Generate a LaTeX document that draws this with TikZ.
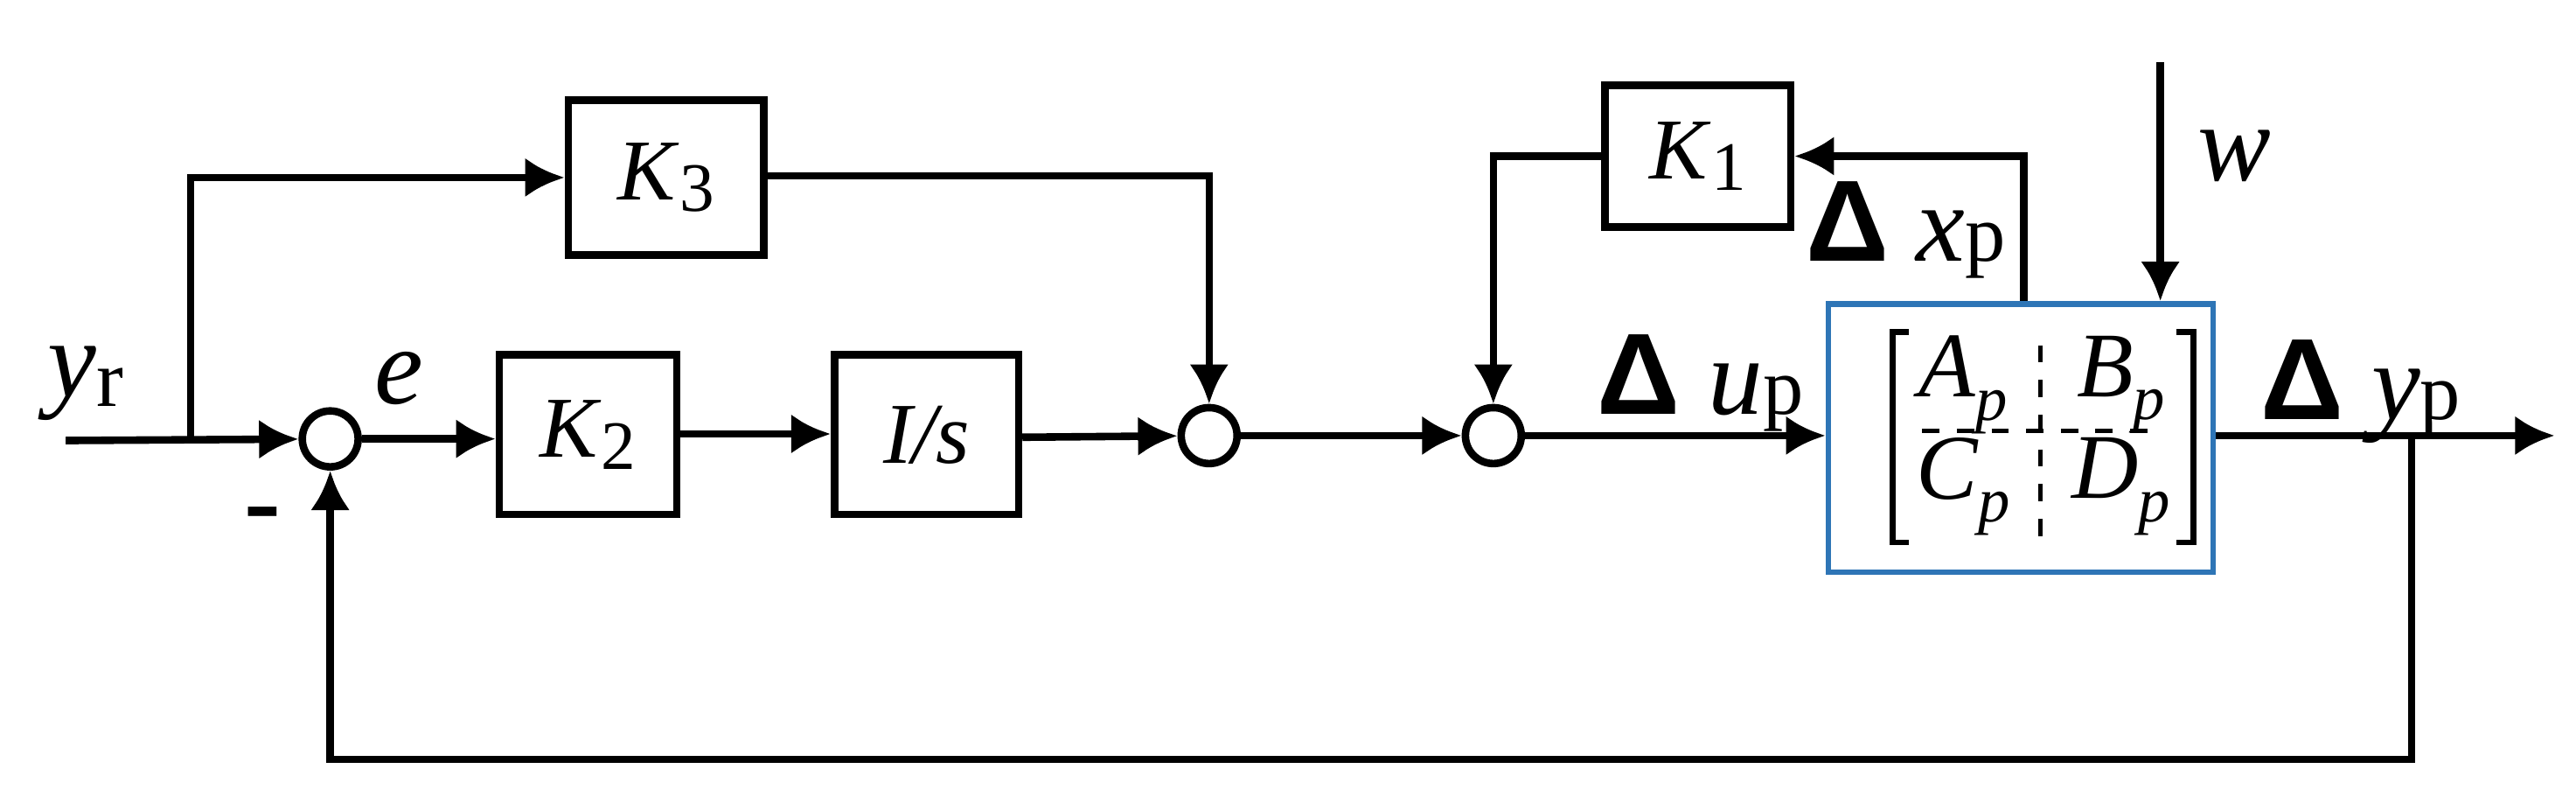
\documentclass[tikz,border=0pt]{standalone}
\usepackage{fontspec}
\setmainfont{Liberation Serif}
\newfontfamily\deltafont{Liberation Sans}
\usetikzlibrary{positioning,arrows.meta}
\tikzset{line/.style={draw, line width=1.3pt, -{Latex[length=0.24cm,width=0.24cm]}},
  wire/.style={draw, line width=1.3pt}}
\newcommand{\dlt}{{\deltafont\bfseries\fontsize{20}{20}\selectfont Δ}}
\newcommand{\ent}[1]{\textit{#1}\raisebox{-0.55ex}{\fontsize{11}{12}\selectfont\textit{p}}}
\begin{document}
\begin{tikzpicture}[x=0.01cm,y=-0.01cm,
blk/.style={draw, line width=1.3pt, inner sep=0pt, font=\fontsize{15}{17}\selectfont},
sum/.style={draw, circle, line width=1.3pt, minimum size=0.34cm, inner sep=0pt},
lbl/.style={font=\fontsize{19}{22}\selectfont},
]
\useasboundingbox (0,0) rectangle (1568,493);
% blocks
\node[blk, minimum width=1.19cm, minimum height=0.94cm] (k3) at (405.5,108) {\textit{K}\raisebox{-0.3ex}{\fontsize{12}{14}\selectfont 3}};
\node[blk, minimum width=1.08cm, minimum height=0.97cm] (k2) at (358,264.5) {\textit{K}\raisebox{-0.3ex}{\fontsize{12}{14}\selectfont 2}};
\node[blk, minimum width=1.12cm, minimum height=0.97cm] (is) at (564,264.5) {\textit{I/s}};
\node[blk, minimum width=1.13cm, minimum height=0.86cm] (k1) at (1033.5,95) {\textit{K}\raisebox{-0.3ex}{\fontsize{12}{14}\selectfont 1}};
\node[blk, draw={rgb,255:red,46;green,117;blue,182}, line width=1pt, minimum width=2.34cm, minimum height=1.63cm] (plant) at (1230,266.5) {};
% sums
\node[sum] (s1) at (201,267) {};
\node[sum] (s2) at (736,265) {};
\node[sum] (s3) at (909,265) {};
% points
\coordinate (in) at (40,268);
\coordinate (br) at (116,268);
\coordinate (wtop) at (1315,38);
\coordinate (out) at (1555,265);
\coordinate (fb) at (1468,265);
% matrix
\draw[line width=1pt] (1162,202) -- (1152,202) -- (1152,330) -- (1162,330);
\draw[line width=1pt] (1325,202) -- (1335,202) -- (1335,330) -- (1325,330);
\draw[dashed, line width=0.8pt] (1242,210) -- (1242,328);
\draw[dashed, line width=0.8pt] (1170,262) -- (1314,262);
\node[font=\fontsize{16}{18}\selectfont] (ap) at (1195,234) {\ent{A}};
\node[font=\fontsize{16}{18}\selectfont] (bp) at (1291,234) {\ent{B}};
\node[font=\fontsize{16}{18}\selectfont] (cp) at (1195,296) {\ent{C}};
\node[font=\fontsize{16}{18}\selectfont] (dp) at (1291,296) {\ent{D}};
% labels
\node[lbl] (yr) at (52,233) {\textit{y}\raisebox{-0.2ex}{\fontsize{14}{16}\selectfont r}};
\node[lbl] (e) at (243,230) {\textit{e}};
\node[lbl] (minus) at (160,318) {\textbf{-}};
\node[lbl] (up) at (1035,233) {\dlt\ \textit{u}{\fontsize{14}{16}\selectfont p}};
\node[lbl] (xp) at (1160,140) {\dlt\ \textit{x}{\fontsize{14}{16}\selectfont p}};
\node[lbl] (yp) at (1437,238) {\dlt\ \textit{y}{\fontsize{14}{16}\selectfont p}};
\node[lbl] (w) at (1360,95) {\textit{w}};
% connectors
\path[line] (in) -- (s1);
\path[line] (br) |- (k3.west |- 0,108);
\path[line] (k3.east |- 0,107) -| (s2);
\path[line] (s1) -- (k2.west |- s1);
\path[line] (k2.east |- 0,264) -- (is.west |- 0,264);
\path[line] (is.east |- 0,266) -- (s2);
\path[line] (s2) -- (s3);
\path[line] (s3) -- (plant.west |- s3);
\path[line] (plant.north -| 1232,0) |- (k1.east);
\path[line] (k1.west) -| (s3);
\path[line] (wtop) -- (plant.north -| wtop);
\path[line] (plant.east |- out) -- (out);
\path[line] (fb) |- (201,462) -- (s1);
\end{tikzpicture}
\end{document}
